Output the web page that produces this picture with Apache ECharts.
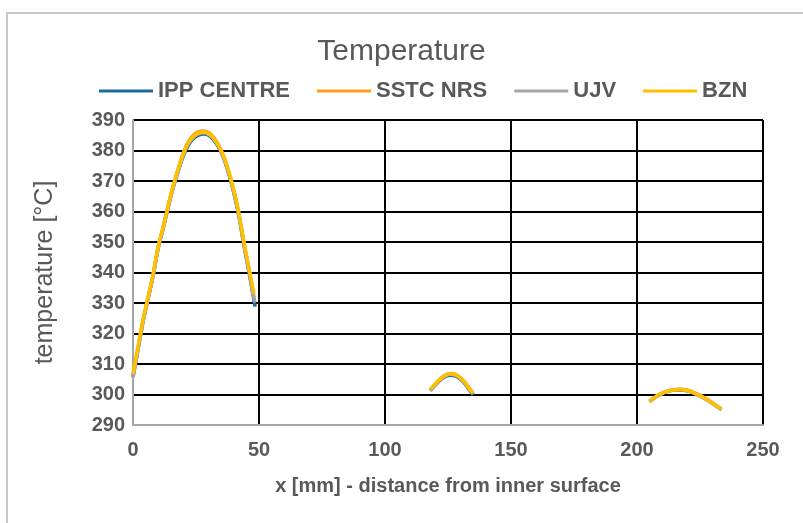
<!DOCTYPE html>
<html>
<head>
<meta charset="utf-8">
<script src="https://cdn.jsdelivr.net/npm/echarts@6/dist/echarts.min.js"></script>
<style>
  html, body { margin: 0; padding: 0; background: #fff; }
  #chart { width: 803px; height: 523px; }
</style>
</head>
<body>
<div id="chart"></div>
<script>
////--------------------------------------------------------------------////
// x positions [mm], '-' marks a gap between the measured zones
const xValues = [0,2,4,6,8,10,12,14,16,18,20,22,24,26,28,30,32,34,36,38,40,42,44,46,48,48.5,'-',
                 118,120,122,124,126,128,130,132,134,135,'-',
                 205,208,211,214,217,220,223,226,229,232,233.5];

const ippCentre = [305.8,314.9,324,331.5,339,348,354.5,361.5,368,373.4,378.3,381.8,383.9,385,385.4,385,383.5,381,377.4,372.3,366.2,358.6,349,340.3,331,328.8,'-',
                   301.3,303.2,304.8,305.9,306.3,306,305,303.2,300.9,299.9,'-',
                   297.7,299.5,300.7,301.4,301.5,301.2,300.3,299.1,297.6,295.9,295.1];
const sstcNrs   = [306.3,315.4,324.4,331.9,339.4,348.4,355,362,368.6,374.2,379.3,382.9,385.1,386.2,386.4,385.9,384.3,381.7,378.1,373,366.9,359.3,349.8,341.2,331.8,'-','-',
                   301.6,303.5,305.2,306.4,306.9,306.6,305.5,303.7,301.4,300.6,'-',
                   297.8,299.6,300.8,301.5,301.7,301.4,300.5,299.3,297.8,296.1,295.3];
const ujv       = [305.5,314.8,324,331.6,339.2,348.2,354.8,361.8,368.3,373.8,378.8,382.3,384.4,385.5,385.8,385.3,383.8,381.3,377.7,372.6,366.5,359,349.5,340.8,331.5,330.2,'-',
                   301.4,303.3,305,306.2,306.6,306.3,305.2,303.4,301.1,300.2,'-',
                   297.8,299.6,300.8,301.5,301.6,301.3,300.4,299.2,297.7,296,295.2];
const bzn       = [306.8,315.7,324.6,332,339.5,348.5,355,362,368.5,374,379,382.5,384.6,385.7,386,385.5,384,381.5,378,373,367,359.5,350,341.5,333,'-','-',
                   301.6,303.5,305.1,306.3,306.8,306.5,305.4,303.6,301.3,300.5,'-',
                   297.8,299.6,300.8,301.5,301.6,301.3,300.4,299.2,297.7,296,295.2];

const seriesNames  = ['IPP CENTRE', 'SSTC NRS', 'UJV', 'BZN'];
const seriesValues = [ippCentre, sstcNrs, ujv, bzn];
const seriesColors = ['#1a6b9e', '#ff9e1b', '#a5a5a5', '#ffc000'];
////--------------------------------------------------------------------////
const textColor = '#595959';
const fontName  = '"Liberation Sans", Arial, sans-serif';

function pairs(values) {
    return xValues.map((x, i) => (x === '-' || values[i] === '-') ? ['-', '-'] : [x, values[i]]);
}

const option = {
    backgroundColor: '#fff',
    animation: false,
    title: {
        text: 'Temperature',
        left: 'center',
        top: 32,
        textStyle: {fontFamily: fontName, fontSize: 30, fontWeight: 'normal', color: textColor}
    },
    legend: {
        top: 75,
        left: 94,
        icon: 'rect',
        itemWidth: 54,
        itemHeight: 3,
        itemGap: 27,
        data: seriesNames,
        textStyle: {fontFamily: fontName, fontSize: 22, fontWeight: 'bold', color: textColor}
    },
    grid: {left: 133, right: 40, top: 120, bottom: 98},
    xAxis: {
        type: 'value',
        min: 0, max: 250, interval: 50,
        name: 'x [mm] - distance from inner surface',
        nameLocation: 'middle',
        nameGap: 51,
        nameTextStyle: {fontFamily: fontName, fontSize: 20, fontWeight: 'bold', color: textColor},
        axisLine: {show: true, lineStyle: {color: '#a6a6a6', width: 2}},
        axisTick: {show: false},
        axisLabel: {margin: 15, fontFamily: fontName, fontSize: 20, fontWeight: 'bold', color: textColor},
        splitLine: {show: true, lineStyle: {color: '#000', width: 2}}
    },
    yAxis: {
        type: 'value',
        min: 290, max: 390, interval: 10,
        name: 'temperature [°C]',
        nameLocation: 'middle',
        nameGap: 75,
        nameTextStyle: {fontFamily: fontName, fontSize: 25, color: textColor},
        axisLine: {show: true, lineStyle: {color: '#a6a6a6', width: 2}},
        axisTick: {show: false},
        axisLabel: {margin: 8, fontFamily: fontName, fontSize: 20, fontWeight: 'bold', color: textColor},
        splitLine: {show: true, lineStyle: {color: '#000', width: 2}}
    },
    graphic: [{
        type: 'rect',
        shape: {x: 7, y: 13, width: 820, height: 540},
        style: {fill: 'none', stroke: '#c8c8c8', lineWidth: 2},
        silent: true
    }],
    series: seriesNames.map((name, i) => ({
        name: name,
        type: 'line',
        data: pairs(seriesValues[i]),
        smooth: 0.3,
        showSymbol: false,
        connectNulls: false,
        lineStyle: {color: seriesColors[i], width: 3.5},
        itemStyle: {color: seriesColors[i]},
        z: 3 + i
    }))
};

const chart = echarts.init(document.getElementById('chart'), null, {renderer: 'canvas'});
chart.setOption(option);
window.addEventListener('resize', chart.resize);
</script>
</body>
</html>
